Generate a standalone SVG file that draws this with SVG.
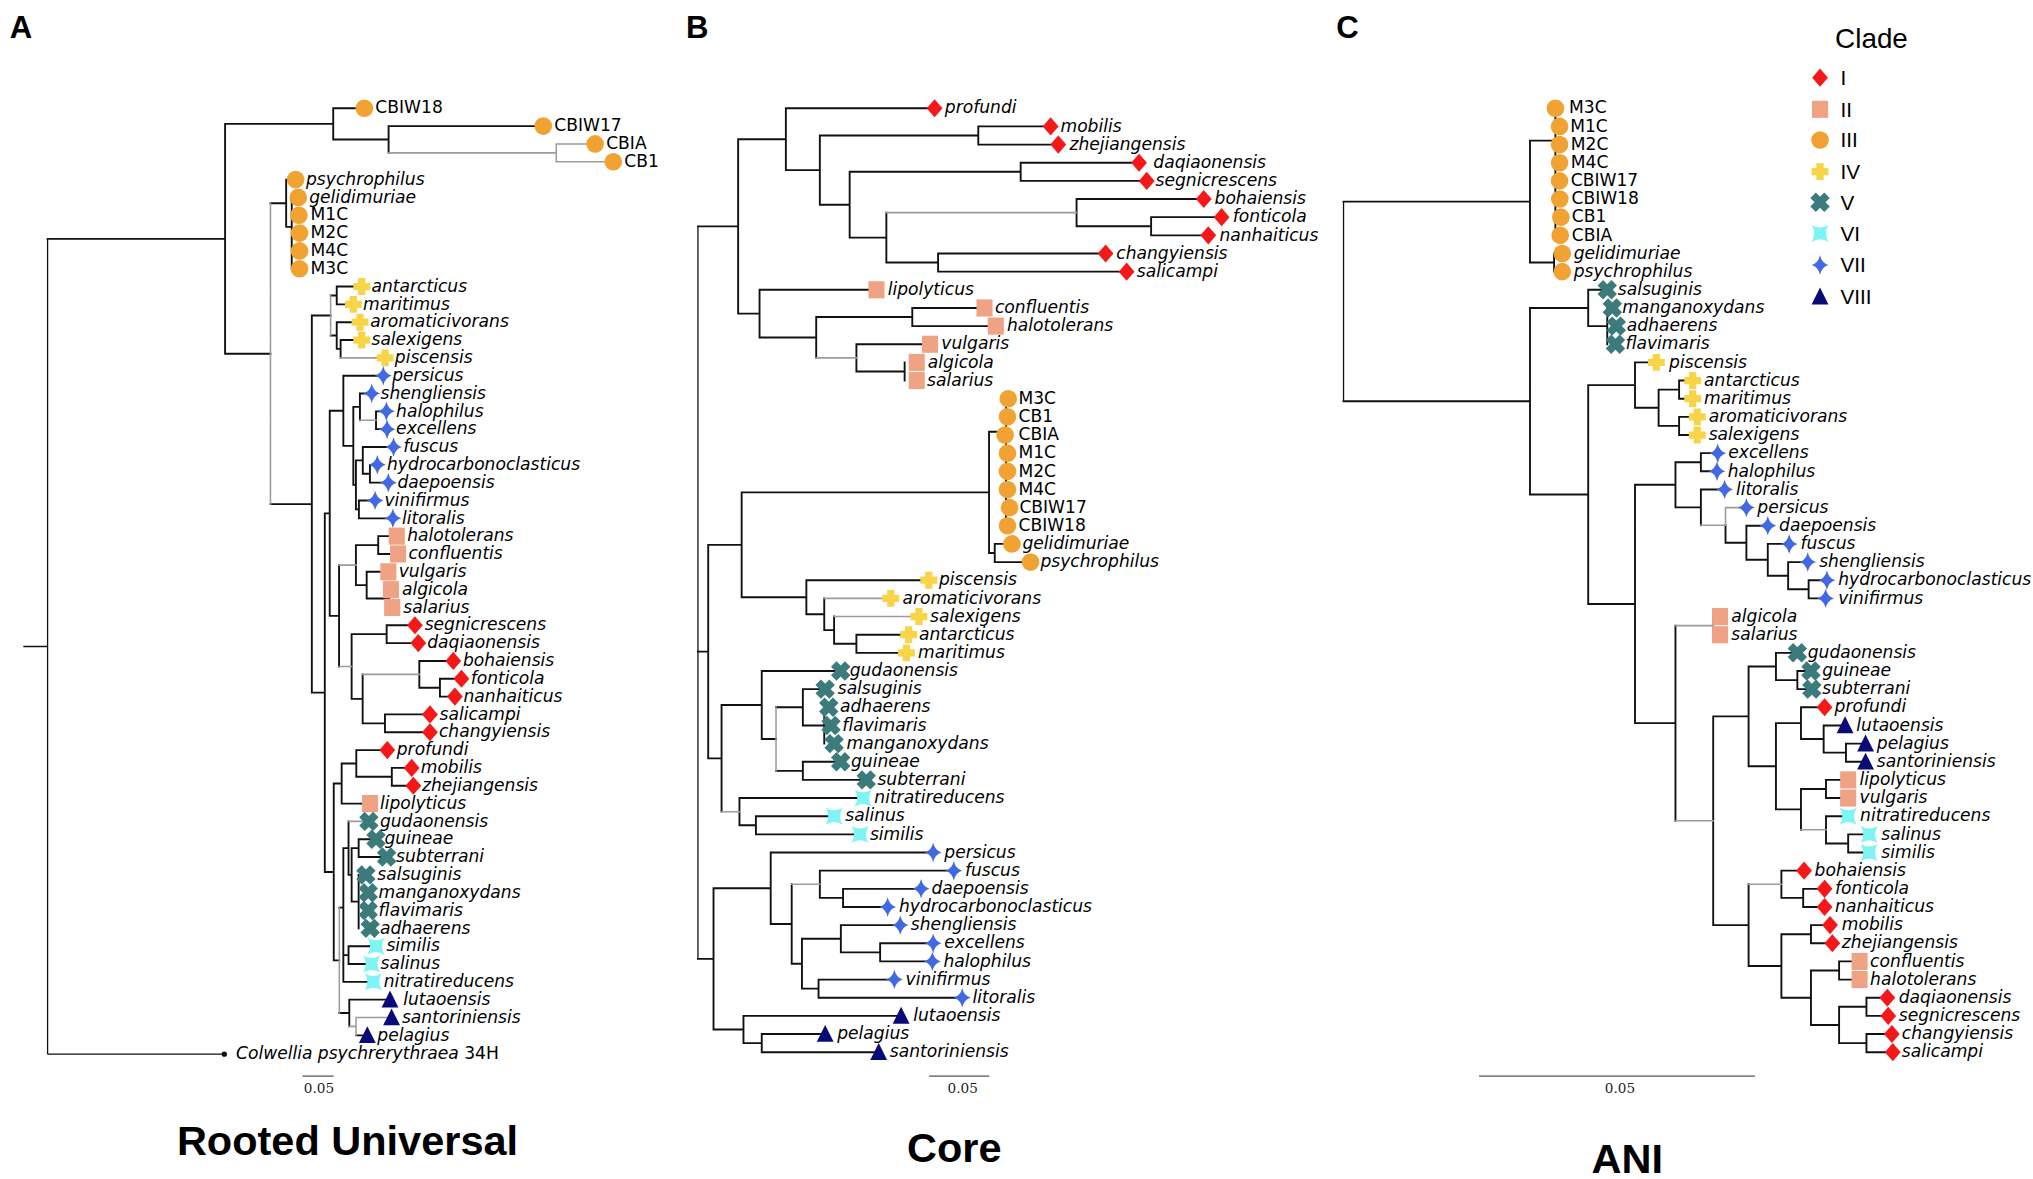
<svg xmlns="http://www.w3.org/2000/svg" xmlns:xlink="http://www.w3.org/1999/xlink" width="2033" height="1179" viewBox="0 0 2033 1179">
<style>
.i{font-family:"DejaVu Sans",sans-serif;font-size:13.2px;font-style:italic;fill:#000}
.u{font-family:"DejaVu Sans",sans-serif;font-size:13.2px;fill:#000}
.ttl{font-family:"Liberation Sans",Arial,sans-serif;font-weight:bold;font-size:32px;text-anchor:middle;fill:#000}
.pl{font-family:"Liberation Sans",Arial,sans-serif;font-weight:bold;font-size:24px;fill:#000}
.leg{font-family:"Liberation Sans",Arial,sans-serif;font-size:16px;fill:#000}
.cl{font-family:"Liberation Sans",Arial,sans-serif;font-size:21.5px;fill:#000}
.sc{font-family:"DejaVu Serif",serif;font-size:10.5px;text-anchor:middle;fill:#222}
.bk{fill:none;stroke:#111;stroke-width:1.45;stroke-linecap:square}
.th{fill:none;stroke:#111;stroke-width:1}
.gr{fill:none;stroke:#9c9c9c;stroke-width:1.2;stroke-linecap:square}
.bar{fill:none;stroke:#555;stroke-width:0.9}
</style>
<defs>
<path id="mI" d="M0,-7L6.1,0L0,7L-6.1,0Z" fill="#f51818"/>
<rect id="mII" x="-6.2" y="-6.6" width="12.4" height="13.2" fill="#f0a284"/>
<circle id="mIII" r="6.8" fill="#f0a232"/>
<path id="mIV" d="M-2.8,-6.5H2.8V-2.8H6.5V2.8H2.8V6.5H-2.8V2.8H-6.5V-2.8H-2.8Z" fill="#f8d548"/>
<path id="mV" d="M-3,-7.6H3V-3H7.6V3H3V7.6H-3V3H-7.6V-3H-3Z" transform="rotate(45)" fill="#3b7b7b"/>
<path id="mVI" d="M-6.5,-6.5Q0,-2.6 6.5,-6.5Q2.6,0 6.5,6.5Q0,2.6 -6.5,6.5Q-2.6,0 -6.5,-6.5Z" fill="#7ff4f4"/>
<path id="mVII" d="M0,-7.5Q1.4,-1.4 6.5,0Q1.4,1.4 0,7.5Q-1.4,1.4 -6.5,0Q-1.4,-1.4 0,-7.5Z" fill="#4169e1"/>
<path id="mVIII" d="M0,-7L6.5,6H-6.5Z" fill="#0b0b78"/>
</defs>
<rect width="2033" height="1179" fill="#fff"/>
<g transform="scale(1.2966)">
<text class="pl" x="7.5" y="29">A</text>
<text class="pl" x="529" y="29">B</text>
<text class="pl" x="1030.5" y="29">C</text>
<text class="ttl" x="268" y="890.8">Rooted Universal</text>
<text class="ttl" x="736" y="896">Core</text>
<text class="ttl" x="1255" y="905">ANI</text>

<g id="connectors">
<g id="A-branches">
<path class="th" d="M18,498.6H36.7M36.7,184.2V813M36.7,813H173"/>
<path class="bk" d="M36.7,184.2H173.6M173.6,95.55V272.8M173.6,95.55H257M173.6,272.8H208.6M257,83.5V107.6M257,83.5H281M257,107.6H299.7M299.7,97.25V117.9M299.7,97.25H419
M208.6,156.75H220.7M220.7,138.5V175M220.7,138.5H228M220.7,175H225M225,152.25V207.25
M208.6,388.8H240.5M240.5,243.35V534.2M240.5,243.35H255
M255,227.9H259.7M259.7,221V234.75M259.7,221H279M259.7,234.75H272.5
M255,258.8H259.7M259.7,248.5V269.1M259.7,248.5H277.7M259.7,269.1H262.7M262.7,262.25V276M262.7,262.25H279
M240.5,534.2H250.5M250.5,395.9V672.5M250.5,395.9H254.3M254.3,316.8V474.95M254.3,316.8H264.8M264.8,289.75V343.9M264.8,289.75H295.6M264.8,343.9H272.5M272.5,313.8V374M272.5,313.8H277.6M277.6,303.5V324.1M277.6,303.5H286.7
M290,317.25V331M290,317.25H298M290,331H298.5
M272.5,374H274.5M274.5,355.1V392.9M274.5,355.1H279.8M279.8,344.75V365.4M279.8,344.75H303.5M279.8,365.4H285.3M285.3,358.5V372.25M285.3,358.5H291M285.3,372.25H299.5
M274.5,392.9H276.8M276.8,386V399.75M276.8,386H289.3M276.8,399.75H303
M254.3,474.95H261.5M261.5,435.85V514.05
M274.5,420.4V451.3M274.5,420.4H291.7M291.7,413.5V427.25M291.7,413.5H306M291.7,427.25H307
M274.5,451.3H282.8M282.8,441V461.6M282.8,441H299.5M282.8,461.6H300M300,454.75V468.5
M271.2,489.1V539M271.2,489.1H298.2M298.2,482.25V496M298.2,482.25H320M298.2,496H322.6
M271.2,539H279.7M279.7,520.1V557.9M323.4,509.75V530.4M323.4,509.75H349.6M323.4,530.4H339.3M339.3,523.5V537.25M339.3,523.5H355.9M339.3,537.25H350.8
M279.7,557.9H296.9M296.9,551V564.75M296.9,551H331.6M296.9,564.75H331.6
M250.5,672.5H257.4M257.4,604.3V740.65M257.4,604.3H263.5M263.5,588.8V619.75M263.5,588.8H274.8M263.5,619.75H285.4
M274.8,578.5V599.1M274.8,578.5H298.7M274.8,599.1H302.2M302.2,592.25V606M302.2,592.25H317.5M302.2,606H318.8
M257.4,740.65H261.7M261.7,700H264.8M264.8,654.1V757.25M264.8,654.1H268.8M268.8,633.5V674.75M268.8,674.75H271.2M271.2,654.1V695.4
M271.2,654.1H276.6M276.6,647.25V661M276.6,647.25H290M276.6,661H298.2
M271.2,695.4H276.6M276.6,674.75V716
M264.8,736.6H268.8M268.8,729.75V743.5M268.8,729.75H290M268.8,743.5H286.6M264.8,757.25H287.9
M261.7,781.3H269.4M269.4,771V791.6M269.4,771H300.8M274.6,798.5H283.3"/>
<path class="gr" d="M299.7,117.9H429M429,111V124.75M429,111H459M429,124.75H473M208.6,156.75V388.8M255,227.9V258.8M262.7,276H297M277.6,324.1H290M261.5,435.85H274.5M261.5,514.05H271.2M279.7,520.1H323.4M261.7,700V781.3M268.8,633.5H284.5M269.4,791.6H274.6M274.6,784.75V798.5M274.6,784.75H302"/>
</g>
<g id="B-branches">
<path class="th" d="M538.3,174.6V739.5"/>
<path class="bk" d="M538.3,174.6H569.3M538.3,502.55H546.2M538.3,739.5H550.3
M569.3,107.35V241.9M569.3,107.35H606.1M606.1,83.5V131.2M606.1,83.5H720.8M606.1,131.2H632.3
M632.3,104.5V157.9M632.3,104.5H754.5M754.5,97.5V111.5M754.5,97.5H810.3M754.5,111.5H816.2
M632.3,157.9H655.3M655.3,132.5V183.25M655.3,132.5H787.2M787.2,125.5V139.5M787.2,125.5H878.5M787.2,139.5H884.4
M655.3,183.25H683.6M683.6,164V202.5M830.3,153.5V174.5M830.3,153.5H928.4M830.3,174.5H887.8M887.8,167.5V181.5M887.8,167.5H942.2M887.8,181.5H931.9
M683.6,202.5H723.5M723.5,195.5V209.5M723.5,195.5H852.7M723.5,209.5H868.9
M569.3,241.9H585.8M585.8,223.5V260.25M585.8,223.5H676M585.8,260.25H629.5M629.5,244.5V276M629.5,244.5H703.6M703.6,237.5V251.5M703.6,237.5H759.3M703.6,251.5H768
M660.5,265.5V286.5M660.5,265.5H717.3M660.5,286.5H697.7M697.7,279.5V293.5
M546.2,420.2V584.9M546.2,420.2H572M572,379.75V460.6M572,379.75H762.8M762.8,333V426.5M762.8,333H775.9M775.9,307.5V405.5M762.8,426.5H767.2M767.2,419.5V433.5M767.2,419.5H780.4M767.2,433.5H794.8
M572,460.6H621.9M621.9,447.5V473.75M621.9,447.5H716.3M621.9,473.75H635.7M635.7,461.5V486M635.7,486H643.3M643.3,475.5V496.5M643.3,496.5H660.5M660.5,489.5V503.5M660.5,489.5H700.8M660.5,503.5H699.1
M546.2,584.9H556.5M556.5,543.75V626M556.5,543.75H587.5M587.5,517.5V570M587.5,517.5H648.4M587.5,570H598.5M598.5,545.5H619.2M619.2,531.5V559.5M619.2,531.5H636.4M619.2,559.5H635.7M635.7,545.5V573.5M598.5,594.5H619.2M619.2,587.5V601.5M619.2,587.5H648.4M619.2,601.5H668.1
M570.3,615.5V636.5M570.3,615.5H665.7M570.3,636.5H583M583,629.5V643.5M583,629.5H643.3M583,643.5H663.3
M550.3,685.05V794M550.3,685.05H594.4M594.4,657.5V712.6M594.4,657.5H719.7M594.4,712.6H610.6M610.6,682V743.25M632.3,671.5V692.5M632.3,671.5H735.6M632.3,692.5H650.2M650.2,685.5V699.5M650.2,685.5H710.4M650.2,699.5H684.6
M610.6,743.25H618.5M618.5,724V762.5M618.5,724H648.5M648.5,713.5V734.5M648.5,713.5H694.3M648.5,734.5H678.8M678.8,727.5V741.5M678.8,727.5H719.7M678.8,741.5H719.1
M618.5,762.5H631.3M631.3,755.5V769.5M631.3,755.5H689.8M631.3,769.5H742.1
M550.3,794H573.4M573.4,783.5V804.5M573.4,783.5H695M573.4,804.5H587.5M587.5,797.5V811.5M587.5,797.5H636.4M587.5,811.5H677.7"/>
<path class="gr" d="M683.6,164H830.3M629.5,276H660.5M635.7,461.5H687M643.3,475.5H708.7M598.5,545.5V594.5M556.5,626H570.3M610.6,682H632.3"/>
</g>
<g id="C-branches">
<path class="th" d="M1036.2,155.5V309.45"/>
<path class="bk" d="M1036.2,155.5H1180M1180,108.5V202.5M1180,108.5H1199.6M1199.6,83.5V181.5M1180,202.5H1198.6M1198.6,195.5V209.5
M1036.2,309.45H1180M1180,237.5V381.4M1180,237.5H1224.9M1224.9,223.5V251.5M1224.9,223.5H1239.6M1224.9,251.5H1239.6M1239.6,237.5V265.5
M1180,381.4H1224.9M1224.9,297V465.8M1224.9,297H1261M1261,279.5V314.5M1261,279.5H1277.5M1261,314.5H1279.2M1279.2,300.5V328.5M1279.2,300.5H1295M1295,293.5V307.5M1295,293.5H1305.5M1295,307.5H1305.5M1279.2,328.5H1295M1295,321.5V335.5M1295,321.5H1309M1295,335.5H1309
M1224.9,465.8H1261M1261,373.9V557.75M1261,373.9H1292.2M1292.2,356.5V391.3M1292.2,356.5H1311.8M1311.8,349.5V363.5M1311.8,349.5H1324.8M1311.8,363.5H1324.2
M1292.2,391.3H1311.8M1311.8,377.5V405.05M1311.8,377.5H1330.1M1330.8,405V418.6M1330.8,418.6H1346.9M1346.9,405.5V431.75M1346.9,405.5H1363.4M1346.9,431.75H1363.4M1363.4,419.5V444M1363.4,419.5H1379.9M1363.4,444H1379.1M1379.1,433.5V454.5M1379.1,433.5H1394.2M1379.1,454.5H1394.9M1394.9,447.5V461.5M1394.9,447.5H1409M1394.9,461.5H1408
M1261,557.75H1292.2M1292.2,482.5V633M1321.3,475.5V489.5M1321.3,552.5V713.5
M1321.3,552.5H1348.6M1348.6,514V591M1348.6,514H1369.7M1369.7,503.5V524.5M1369.7,503.5H1386.2M1369.7,524.5H1386.2M1386.2,517.5V531.5M1386.2,517.5H1396.7M1386.2,531.5H1397.4
M1348.6,591H1369.7M1369.7,557.75V624.25M1369.7,557.75H1389M1389,545.5V570M1389,545.5H1407.2M1389,570H1406.5M1406.5,559.5V580.5M1406.5,559.5H1423M1406.5,580.5H1423.7M1423.7,573.5V587.5M1423.7,573.5H1438.8M1423.7,587.5H1438.8
M1369.7,624.25H1389M1389,608.5V640M1389,608.5H1408.3M1408.3,601.5V615.5M1408.3,601.5H1425.4M1408.3,615.5H1425.4M1408.3,629.5V650.5M1408.3,629.5H1425.4M1408.3,650.5H1425.4M1425.4,643.5V657.5M1425.4,643.5H1441.6M1425.4,657.5H1441.6
M1321.3,713.5H1348.6M1348.6,682V745M1373.9,671.5V692.5M1373.9,671.5H1391.4M1373.9,692.5H1390.7M1390.7,685.5V699.5M1390.7,685.5H1407.2M1390.7,699.5H1407.2
M1348.6,745H1373.9M1373.9,720.5V769.5M1373.9,720.5H1396.7M1396.7,713.5V727.5M1396.7,713.5H1411.4M1396.7,727.5H1413.2
M1373.9,769.5H1396.7M1396.7,748.5V790.5M1396.7,748.5H1418.4M1418.4,741.5V755.5M1418.4,741.5H1434.2M1418.4,755.5H1434.2
M1396.7,790.5H1418.4M1418.4,776.5V804.5M1418.4,776.5H1439.5M1439.5,769.5V783.5M1439.5,769.5H1455.6M1439.5,783.5H1456.3M1418.4,804.5H1439.5M1439.5,797.5V811.5M1439.5,797.5H1459.1M1439.5,811.5H1459.8"/>
<path class="gr" d="M1311.8,405.05H1330.8M1330.8,391.5V405M1330.8,391.5H1346.9M1292.2,482.5H1321.3M1292.2,633H1321.3M1389,640H1408.3M1348.6,682H1373.9"/>
</g>
</g>

<g id="scalebars">
<path class="bar" d="M233.3,829.9H257.3M716.6,829.9H763M1140.7,829.9H1353.6"/>
<text class="sc" x="246" y="843">0.05</text>
<text class="sc" x="742.5" y="843">0.05</text>
<text class="sc" x="1249.4" y="843">0.05</text>
</g>

<g id="panelA-tips">
<g id="A-CBIW18"><use xlink:href="#mIII" x="281" y="83.5"/><text class="u" x="289.5" y="87.5">CBIW18</text></g>
<g id="A-CBIW17"><use xlink:href="#mIII" x="419" y="97.25"/><text class="u" x="427.5" y="101.25">CBIW17</text></g>
<g id="A-CBIA"><use xlink:href="#mIII" x="459" y="111"/><text class="u" x="467.5" y="115">CBIA</text></g>
<g id="A-CB1"><use xlink:href="#mIII" x="473" y="124.75"/><text class="u" x="481.5" y="128.75">CB1</text></g>
<g id="A-psychrophilus"><use xlink:href="#mIII" x="228" y="138.5"/><text class="i" x="236" y="142.5">psychrophilus</text></g>
<g id="A-gelidimuriae"><use xlink:href="#mIII" x="230" y="152.25"/><text class="i" x="238.5" y="156.25">gelidimuriae</text></g>
<g id="A-M1C"><use xlink:href="#mIII" x="230.5" y="166"/><text class="u" x="239.5" y="170">M1C</text></g>
<g id="A-M2C"><use xlink:href="#mIII" x="231" y="179.75"/><text class="u" x="239.5" y="183.75">M2C</text></g>
<g id="A-M4C"><use xlink:href="#mIII" x="231" y="193.5"/><text class="u" x="239.5" y="197.5">M4C</text></g>
<g id="A-M3C"><use xlink:href="#mIII" x="231" y="207.25"/><text class="u" x="239.5" y="211.25">M3C</text></g>
<g id="A-antarcticus"><use xlink:href="#mIV" x="279" y="221"/><text class="i" x="286.5" y="225">antarcticus</text></g>
<g id="A-maritimus"><use xlink:href="#mIV" x="272.5" y="234.75"/><text class="i" x="280" y="238.75">maritimus</text></g>
<g id="A-aromaticivorans"><use xlink:href="#mIV" x="277.7" y="248.5"/><text class="i" x="285.5" y="252.5">aromaticivorans</text></g>
<g id="A-salexigens"><use xlink:href="#mIV" x="279" y="262.25"/><text class="i" x="286.5" y="266.25">salexigens</text></g>
<g id="A-piscensis"><use xlink:href="#mIV" x="297" y="276"/><text class="i" x="304.5" y="280">piscensis</text></g>
<g id="A-persicus"><use xlink:href="#mVII" x="295.6" y="289.75"/><text class="i" x="302.5" y="293.75">persicus</text></g>
<g id="A-shengliensis"><use xlink:href="#mVII" x="286.7" y="303.5"/><text class="i" x="293.5" y="307.5">shengliensis</text></g>
<g id="A-halophilus"><use xlink:href="#mVII" x="298" y="317.25"/><text class="i" x="305.5" y="321.25">halophilus</text></g>
<g id="A-excellens"><use xlink:href="#mVII" x="298.5" y="331"/><text class="i" x="305.5" y="335">excellens</text></g>
<g id="A-fuscus"><use xlink:href="#mVII" x="303.5" y="344.75"/><text class="i" x="311" y="348.75">fuscus</text></g>
<g id="A-hydrocarbonoclasticus"><use xlink:href="#mVII" x="291" y="358.5"/><text class="i" x="298.5" y="362.5">hydrocarbonoclasticus</text></g>
<g id="A-daepoensis"><use xlink:href="#mVII" x="299.5" y="372.25"/><text class="i" x="306.5" y="376.25">daepoensis</text></g>
<g id="A-vinifirmus"><use xlink:href="#mVII" x="289.3" y="386"/><text class="i" x="296.5" y="390">vinifirmus</text></g>
<g id="A-litoralis"><use xlink:href="#mVII" x="303" y="399.75"/><text class="i" x="310" y="403.75">litoralis</text></g>
<g id="A-halotolerans"><use xlink:href="#mII" x="306" y="413.5"/><text class="i" x="314" y="417.5">halotolerans</text></g>
<g id="A-confluentis"><use xlink:href="#mII" x="307" y="427.25"/><text class="i" x="315" y="431.25">confluentis</text></g>
<g id="A-vulgaris"><use xlink:href="#mII" x="299.5" y="441"/><text class="i" x="307.5" y="445">vulgaris</text></g>
<g id="A-algicola"><use xlink:href="#mII" x="301.5" y="454.75"/><text class="i" x="310" y="458.75">algicola</text></g>
<g id="A-salarius"><use xlink:href="#mII" x="302.5" y="468.5"/><text class="i" x="311" y="472.5">salarius</text></g>
<g id="A-segnicrescens"><use xlink:href="#mI" x="320" y="482.25"/><text class="i" x="327.5" y="486.25">segnicrescens</text></g>
<g id="A-daqiaonensis"><use xlink:href="#mI" x="322.6" y="496"/><text class="i" x="329.5" y="500">daqiaonensis</text></g>
<g id="A-bohaiensis"><use xlink:href="#mI" x="349.6" y="509.75"/><text class="i" x="357" y="513.75">bohaiensis</text></g>
<g id="A-fonticola"><use xlink:href="#mI" x="355.9" y="523.5"/><text class="i" x="363" y="527.5">fonticola</text></g>
<g id="A-nanhaiticus"><use xlink:href="#mI" x="350.8" y="537.25"/><text class="i" x="357.5" y="541.25">nanhaiticus</text></g>
<g id="A-salicampi"><use xlink:href="#mI" x="331.6" y="551"/><text class="i" x="339" y="555">salicampi</text></g>
<g id="A-changyiensis"><use xlink:href="#mI" x="331.6" y="564.75"/><text class="i" x="338.5" y="568.75">changyiensis</text></g>
<g id="A-profundi"><use xlink:href="#mI" x="298.7" y="578.5"/><text class="i" x="306" y="582.5">profundi</text></g>
<g id="A-mobilis"><use xlink:href="#mI" x="317.5" y="592.25"/><text class="i" x="324.5" y="596.25">mobilis</text></g>
<g id="A-zhejiangensis"><use xlink:href="#mI" x="318.8" y="606"/><text class="i" x="325.5" y="610">zhejiangensis</text></g>
<g id="A-lipolyticus"><use xlink:href="#mII" x="285.4" y="619.75"/><text class="i" x="293" y="623.75">lipolyticus</text></g>
<g id="A-gudaonensis"><use xlink:href="#mV" x="284.5" y="633.5"/><text class="i" x="293" y="637.5">gudaonensis</text></g>
<g id="A-guineae"><use xlink:href="#mV" x="290" y="647.25"/><text class="i" x="296.5" y="651.25">guineae</text></g>
<g id="A-subterrani"><use xlink:href="#mV" x="298.2" y="661"/><text class="i" x="305.5" y="665">subterrani</text></g>
<g id="A-salsuginis"><use xlink:href="#mV" x="282.2" y="674.75"/><text class="i" x="291" y="678.75">salsuginis</text></g>
<g id="A-manganoxydans"><use xlink:href="#mV" x="284" y="688.5"/><text class="i" x="292" y="692.5">manganoxydans</text></g>
<g id="A-flavimaris"><use xlink:href="#mV" x="284" y="702.25"/><text class="i" x="292" y="706.25">flavimaris</text></g>
<g id="A-adhaerens"><use xlink:href="#mV" x="285.5" y="716"/><text class="i" x="293" y="720">adhaerens</text></g>
<g id="A-similis"><use xlink:href="#mVI" x="290" y="729.75"/><text class="i" x="298" y="733.75">similis</text></g>
<g id="A-salinus"><use xlink:href="#mVI" x="286.6" y="743.5"/><text class="i" x="293.5" y="747.5">salinus</text></g>
<g id="A-nitratireducens"><use xlink:href="#mVI" x="287.9" y="757.25"/><text class="i" x="296" y="761.25">nitratireducens</text></g>
<g id="A-lutaoensis"><use xlink:href="#mVIII" x="300.8" y="771"/><text class="i" x="311" y="775">lutaoensis</text></g>
<g id="A-santoriniensis"><use xlink:href="#mVIII" x="302" y="784.75"/><text class="i" x="310" y="788.75">santoriniensis</text></g>
<g id="A-pelagius"><use xlink:href="#mVIII" x="283.3" y="798.5"/><text class="i" x="291" y="802.5">pelagius</text></g>
<g id="A-Colwellia"><circle cx="173" cy="813" r="2" fill="#111"/><text class="u" x="182" y="817"><tspan font-style="italic">Colwellia psychrerythraea</tspan> 34H</text></g>
</g>

<g id="panelB-tips">
<g id="B-profundi"><use xlink:href="#mI" x="720.8" y="83.5"/><text class="i" x="728.7" y="87.5">profundi</text></g>
<g id="B-mobilis"><use xlink:href="#mI" x="810.3" y="97.5"/><text class="i" x="817.9" y="101.5">mobilis</text></g>
<g id="B-zhejiangensis"><use xlink:href="#mI" x="816.2" y="111.5"/><text class="i" x="824.8" y="115.5">zhejiangensis</text></g>
<g id="B-daqiaonensis"><use xlink:href="#mI" x="878.5" y="125.5"/><text class="i" x="889.5" y="129.5">daqiaonensis</text></g>
<g id="B-segnicrescens"><use xlink:href="#mI" x="884.4" y="139.5"/><text class="i" x="891.2" y="143.5">segnicrescens</text></g>
<g id="B-bohaiensis"><use xlink:href="#mI" x="928.4" y="153.5"/><text class="i" x="936.7" y="157.5">bohaiensis</text></g>
<g id="B-fonticola"><use xlink:href="#mI" x="942.2" y="167.5"/><text class="i" x="950.8" y="171.5">fonticola</text></g>
<g id="B-nanhaiticus"><use xlink:href="#mI" x="931.9" y="181.5"/><text class="i" x="940.5" y="185.5">nanhaiticus</text></g>
<g id="B-changyiensis"><use xlink:href="#mI" x="852.7" y="195.5"/><text class="i" x="860.9" y="199.5">changyiensis</text></g>
<g id="B-salicampi"><use xlink:href="#mI" x="868.9" y="209.5"/><text class="i" x="876.8" y="213.5">salicampi</text></g>
<g id="B-lipolyticus"><use xlink:href="#mII" x="676" y="223.5"/><text class="i" x="684.6" y="227.5">lipolyticus</text></g>
<g id="B-confluentis"><use xlink:href="#mII" x="759.3" y="237.5"/><text class="i" x="767.3" y="241.5">confluentis</text></g>
<g id="B-halotolerans"><use xlink:href="#mII" x="768" y="251.5"/><text class="i" x="776.6" y="255.5">halotolerans</text></g>
<g id="B-vulgaris"><use xlink:href="#mII" x="717.3" y="265.5"/><text class="i" x="726" y="269.5">vulgaris</text></g>
<g id="B-algicola"><use xlink:href="#mII" x="707" y="279.5"/><text class="i" x="715.6" y="283.5">algicola</text></g>
<g id="B-salarius"><use xlink:href="#mII" x="707" y="293.5"/><text class="i" x="715" y="297.5">salarius</text></g>
<g id="B-M3C"><use xlink:href="#mIII" x="777.6" y="307.5"/><text class="u" x="785.5" y="311.5">M3C</text></g>
<g id="B-CB1"><use xlink:href="#mIII" x="777" y="321.5"/><text class="u" x="785.5" y="325.5">CB1</text></g>
<g id="B-CBIA"><use xlink:href="#mIII" x="775.2" y="335.5"/><text class="u" x="785.5" y="339.5">CBIA</text></g>
<g id="B-M1C"><use xlink:href="#mIII" x="777" y="349.5"/><text class="u" x="785.5" y="353.5">M1C</text></g>
<g id="B-M2C"><use xlink:href="#mIII" x="777" y="363.5"/><text class="u" x="785.5" y="367.5">M2C</text></g>
<g id="B-M4C"><use xlink:href="#mIII" x="777" y="377.5"/><text class="u" x="785.5" y="381.5">M4C</text></g>
<g id="B-CBIW17"><use xlink:href="#mIII" x="778.6" y="391.5"/><text class="u" x="786.2" y="395.5">CBIW17</text></g>
<g id="B-CBIW18"><use xlink:href="#mIII" x="777" y="405.5"/><text class="u" x="785.5" y="409.5">CBIW18</text></g>
<g id="B-gelidimuriae"><use xlink:href="#mIII" x="780.4" y="419.5"/><text class="i" x="788.6" y="423.5">gelidimuriae</text></g>
<g id="B-psychrophilus"><use xlink:href="#mIII" x="794.8" y="433.5"/><text class="i" x="802.4" y="437.5">psychrophilus</text></g>
<g id="B-piscensis"><use xlink:href="#mIV" x="716.3" y="447.5"/><text class="i" x="724.2" y="451.5">piscensis</text></g>
<g id="B-aromaticivorans"><use xlink:href="#mIV" x="687" y="461.5"/><text class="i" x="696" y="465.5">aromaticivorans</text></g>
<g id="B-salexigens"><use xlink:href="#mIV" x="708.7" y="475.5"/><text class="i" x="717.3" y="479.5">salexigens</text></g>
<g id="B-antarcticus"><use xlink:href="#mIV" x="700.8" y="489.5"/><text class="i" x="708.7" y="493.5">antarcticus</text></g>
<g id="B-maritimus"><use xlink:href="#mIV" x="699.1" y="503.5"/><text class="i" x="708" y="507.5">maritimus</text></g>
<g id="B-gudaonensis"><use xlink:href="#mV" x="648.4" y="517.5"/><text class="i" x="655.3" y="521.5">gudaonensis</text></g>
<g id="B-salsuginis"><use xlink:href="#mV" x="636.4" y="531.5"/><text class="i" x="646.1" y="535.5">salsuginis</text></g>
<g id="B-adhaerens"><use xlink:href="#mV" x="639.2" y="545.5"/><text class="i" x="647.8" y="549.5">adhaerens</text></g>
<g id="B-flavimaris"><use xlink:href="#mV" x="640.9" y="559.5"/><text class="i" x="649.5" y="563.5">flavimaris</text></g>
<g id="B-manganoxydans"><use xlink:href="#mV" x="643.3" y="573.5"/><text class="i" x="652.9" y="577.5">manganoxydans</text></g>
<g id="B-guineae"><use xlink:href="#mV" x="648.4" y="587.5"/><text class="i" x="656.3" y="591.5">guineae</text></g>
<g id="B-subterrani"><use xlink:href="#mV" x="668.1" y="601.5"/><text class="i" x="676.7" y="605.5">subterrani</text></g>
<g id="B-nitratireducens"><use xlink:href="#mVI" x="665.7" y="615.5"/><text class="i" x="674.3" y="619.5">nitratireducens</text></g>
<g id="B-salinus"><use xlink:href="#mVI" x="643.3" y="629.5"/><text class="i" x="651.9" y="633.5">salinus</text></g>
<g id="B-similis"><use xlink:href="#mVI" x="663.3" y="643.5"/><text class="i" x="670.9" y="647.5">similis</text></g>
<g id="B-persicus"><use xlink:href="#mVII" x="719.7" y="657.5"/><text class="i" x="728.3" y="661.5">persicus</text></g>
<g id="B-fuscus"><use xlink:href="#mVII" x="735.6" y="671.5"/><text class="i" x="744.2" y="675.5">fuscus</text></g>
<g id="B-daepoensis"><use xlink:href="#mVII" x="710.4" y="685.5"/><text class="i" x="718.4" y="689.5">daepoensis</text></g>
<g id="B-hydrocarbonoclasticus"><use xlink:href="#mVII" x="684.6" y="699.5"/><text class="i" x="693.3" y="703.5">hydrocarbonoclasticus</text></g>
<g id="B-shengliensis"><use xlink:href="#mVII" x="694.3" y="713.5"/><text class="i" x="702.5" y="717.5">shengliensis</text></g>
<g id="B-excellens"><use xlink:href="#mVII" x="719.7" y="727.5"/><text class="i" x="728.3" y="731.5">excellens</text></g>
<g id="B-halophilus"><use xlink:href="#mVII" x="719.1" y="741.5"/><text class="i" x="727.6" y="745.5">halophilus</text></g>
<g id="B-vinifirmus"><use xlink:href="#mVII" x="689.8" y="755.5"/><text class="i" x="698.4" y="759.5">vinifirmus</text></g>
<g id="B-litoralis"><use xlink:href="#mVII" x="742.1" y="769.5"/><text class="i" x="750.1" y="773.5">litoralis</text></g>
<g id="B-lutaoensis"><use xlink:href="#mVIII" x="695" y="783.5"/><text class="i" x="704.3" y="787.5">lutaoensis</text></g>
<g id="B-pelagius"><use xlink:href="#mVIII" x="636.4" y="797.5"/><text class="i" x="645.7" y="801.5">pelagius</text></g>
<g id="B-santoriniensis"><use xlink:href="#mVIII" x="677.7" y="811.5"/><text class="i" x="686.3" y="815.5">santoriniensis</text></g>
</g>

<g id="panelC-tips">
<g id="C-M3C"><use xlink:href="#mIII" x="1199.6" y="83.5"/><text class="u" x="1210.1" y="87.5">M3C</text></g>
<g id="C-M1C"><use xlink:href="#mIII" x="1202.8" y="97.5"/><text class="u" x="1211" y="101.5">M1C</text></g>
<g id="C-M2C"><use xlink:href="#mIII" x="1202.8" y="111.5"/><text class="u" x="1211.5" y="115.5">M2C</text></g>
<g id="C-M4C"><use xlink:href="#mIII" x="1202.8" y="125.5"/><text class="u" x="1211.5" y="129.5">M4C</text></g>
<g id="C-CBIW17"><use xlink:href="#mIII" x="1202.8" y="139.5"/><text class="u" x="1211.5" y="143.5">CBIW17</text></g>
<g id="C-CBIW18"><use xlink:href="#mIII" x="1203" y="153.5"/><text class="u" x="1212" y="157.5">CBIW18</text></g>
<g id="C-CB1"><use xlink:href="#mIII" x="1203.8" y="167.5"/><text class="u" x="1212.3" y="171.5">CB1</text></g>
<g id="C-CBIA"><use xlink:href="#mIII" x="1203.3" y="181.5"/><text class="u" x="1212.3" y="185.5">CBIA</text></g>
<g id="C-gelidimuriae"><use xlink:href="#mIII" x="1204.9" y="195.5"/><text class="i" x="1213.7" y="199.5">gelidimuriae</text></g>
<g id="C-psychrophilus"><use xlink:href="#mIII" x="1204.9" y="209.5"/><text class="i" x="1213.7" y="213.5">psychrophilus</text></g>
<g id="C-salsuginis"><use xlink:href="#mV" x="1239.6" y="223.5"/><text class="i" x="1247.7" y="227.5">salsuginis</text></g>
<g id="C-manganoxydans"><use xlink:href="#mV" x="1243.5" y="237.5"/><text class="i" x="1251.2" y="241.5">manganoxydans</text></g>
<g id="C-adhaerens"><use xlink:href="#mV" x="1246.6" y="251.5"/><text class="i" x="1254.7" y="255.5">adhaerens</text></g>
<g id="C-flavimaris"><use xlink:href="#mV" x="1245.9" y="265.5"/><text class="i" x="1253.6" y="269.5">flavimaris</text></g>
<g id="C-piscensis"><use xlink:href="#mIV" x="1277.5" y="279.5"/><text class="i" x="1287.3" y="283.5">piscensis</text></g>
<g id="C-antarcticus"><use xlink:href="#mIV" x="1305.5" y="293.5"/><text class="i" x="1314.3" y="297.5">antarcticus</text></g>
<g id="C-maritimus"><use xlink:href="#mIV" x="1305.5" y="307.5"/><text class="i" x="1314.3" y="311.5">maritimus</text></g>
<g id="C-aromaticivorans"><use xlink:href="#mIV" x="1309" y="321.5"/><text class="i" x="1317.8" y="325.5">aromaticivorans</text></g>
<g id="C-salexigens"><use xlink:href="#mIV" x="1309" y="335.5"/><text class="i" x="1317.8" y="339.5">salexigens</text></g>
<g id="C-excellens"><use xlink:href="#mVII" x="1324.8" y="349.5"/><text class="i" x="1332.9" y="353.5">excellens</text></g>
<g id="C-halophilus"><use xlink:href="#mVII" x="1324.2" y="363.5"/><text class="i" x="1332.5" y="367.5">halophilus</text></g>
<g id="C-litoralis"><use xlink:href="#mVII" x="1330.1" y="377.5"/><text class="i" x="1338.8" y="381.5">litoralis</text></g>
<g id="C-persicus"><use xlink:href="#mVII" x="1346.9" y="391.5"/><text class="i" x="1355.3" y="395.5">persicus</text></g>
<g id="C-daepoensis"><use xlink:href="#mVII" x="1363.4" y="405.5"/><text class="i" x="1372.1" y="409.5">daepoensis</text></g>
<g id="C-fuscus"><use xlink:href="#mVII" x="1379.9" y="419.5"/><text class="i" x="1388.6" y="423.5">fuscus</text></g>
<g id="C-shengliensis"><use xlink:href="#mVII" x="1394.2" y="433.5"/><text class="i" x="1403" y="437.5">shengliensis</text></g>
<g id="C-hydrocarbonoclasticus"><use xlink:href="#mVII" x="1409" y="447.5"/><text class="i" x="1417.7" y="451.5">hydrocarbonoclasticus</text></g>
<g id="C-vinifirmus"><use xlink:href="#mVII" x="1408" y="461.5"/><text class="i" x="1417.7" y="465.5">vinifirmus</text></g>
<g id="C-algicola"><use xlink:href="#mII" x="1326.6" y="475.5"/><text class="i" x="1335.3" y="479.5">algicola</text></g>
<g id="C-salarius"><use xlink:href="#mII" x="1326.6" y="489.5"/><text class="i" x="1335.3" y="493.5">salarius</text></g>
<g id="C-gudaonensis"><use xlink:href="#mV" x="1386.2" y="503.5"/><text class="i" x="1394.2" y="507.5">gudaonensis</text></g>
<g id="C-guineae"><use xlink:href="#mV" x="1396.7" y="517.5"/><text class="i" x="1405.4" y="521.5">guineae</text></g>
<g id="C-subterrani"><use xlink:href="#mV" x="1397.4" y="531.5"/><text class="i" x="1405.4" y="535.5">subterrani</text></g>
<g id="C-profundi"><use xlink:href="#mI" x="1407.2" y="545.5"/><text class="i" x="1414.9" y="549.5">profundi</text></g>
<g id="C-lutaoensis"><use xlink:href="#mVIII" x="1423" y="559.5"/><text class="i" x="1431.7" y="563.5">lutaoensis</text></g>
<g id="C-pelagius"><use xlink:href="#mVIII" x="1438.8" y="573.5"/><text class="i" x="1447.5" y="577.5">pelagius</text></g>
<g id="C-santoriniensis"><use xlink:href="#mVIII" x="1438.8" y="587.5"/><text class="i" x="1447.5" y="591.5">santoriniensis</text></g>
<g id="C-lipolyticus"><use xlink:href="#mII" x="1425.4" y="601.5"/><text class="i" x="1434.2" y="605.5">lipolyticus</text></g>
<g id="C-vulgaris"><use xlink:href="#mII" x="1425.4" y="615.5"/><text class="i" x="1434.2" y="619.5">vulgaris</text></g>
<g id="C-nitratireducens"><use xlink:href="#mVI" x="1425.4" y="629.5"/><text class="i" x="1434.6" y="633.5">nitratireducens</text></g>
<g id="C-salinus"><use xlink:href="#mVI" x="1441.6" y="643.5"/><text class="i" x="1451" y="647.5">salinus</text></g>
<g id="C-similis"><use xlink:href="#mVI" x="1441.6" y="657.5"/><text class="i" x="1451" y="661.5">similis</text></g>
<g id="C-bohaiensis"><use xlink:href="#mI" x="1391.4" y="671.5"/><text class="i" x="1399.5" y="675.5">bohaiensis</text></g>
<g id="C-fonticola"><use xlink:href="#mI" x="1407.2" y="685.5"/><text class="i" x="1415.3" y="689.5">fonticola</text></g>
<g id="C-nanhaiticus"><use xlink:href="#mI" x="1407.2" y="699.5"/><text class="i" x="1415.3" y="703.5">nanhaiticus</text></g>
<g id="C-mobilis"><use xlink:href="#mI" x="1411.4" y="713.5"/><text class="i" x="1420.5" y="717.5">mobilis</text></g>
<g id="C-zhejiangensis"><use xlink:href="#mI" x="1413.2" y="727.5"/><text class="i" x="1420.5" y="731.5">zhejiangensis</text></g>
<g id="C-confluentis"><use xlink:href="#mII" x="1434.2" y="741.5"/><text class="i" x="1442.3" y="745.5">confluentis</text></g>
<g id="C-halotolerans"><use xlink:href="#mII" x="1434.2" y="755.5"/><text class="i" x="1442.3" y="759.5">halotolerans</text></g>
<g id="C-daqiaonensis"><use xlink:href="#mI" x="1455.6" y="769.5"/><text class="i" x="1464.4" y="773.5">daqiaonensis</text></g>
<g id="C-segnicrescens"><use xlink:href="#mI" x="1456.3" y="783.5"/><text class="i" x="1464.4" y="787.5">segnicrescens</text></g>
<g id="C-changyiensis"><use xlink:href="#mI" x="1459.1" y="797.5"/><text class="i" x="1466.8" y="801.5">changyiensis</text></g>
<g id="C-salicampi"><use xlink:href="#mI" x="1459.8" y="811.5"/><text class="i" x="1466.8" y="815.5">salicampi</text></g>
</g>

<g id="legend">
<text class="cl" x="1415.3" y="37.3">Clade</text>
<g id="leg-I"><use xlink:href="#mI" x="1403.7" y="59.9"/><text class="leg" x="1419.5" y="65.6">I</text></g>
<g id="leg-II"><use xlink:href="#mII" x="1403.7" y="84.3"/><text class="leg" x="1419.5" y="90">II</text></g>
<g id="leg-III"><use xlink:href="#mIII" x="1403.7" y="108"/><text class="leg" x="1419.5" y="113.7">III</text></g>
<g id="leg-IV"><use xlink:href="#mIV" x="1403.7" y="132.4"/><text class="leg" x="1419.5" y="138.1">IV</text></g>
<g id="leg-V"><use xlink:href="#mV" x="1403.7" y="156"/><text class="leg" x="1419.5" y="161.7">V</text></g>
<g id="leg-VI"><use xlink:href="#mVI" x="1403.7" y="180"/><text class="leg" x="1419.5" y="185.7">VI</text></g>
<g id="leg-VII"><use xlink:href="#mVII" x="1403.7" y="204.4"/><text class="leg" x="1419.5" y="210.1">VII</text></g>
<g id="leg-VIII"><use xlink:href="#mVIII" x="1403.7" y="228.8"/><text class="leg" x="1419.5" y="234.5">VIII</text></g>
</g>
</g>
</svg>
